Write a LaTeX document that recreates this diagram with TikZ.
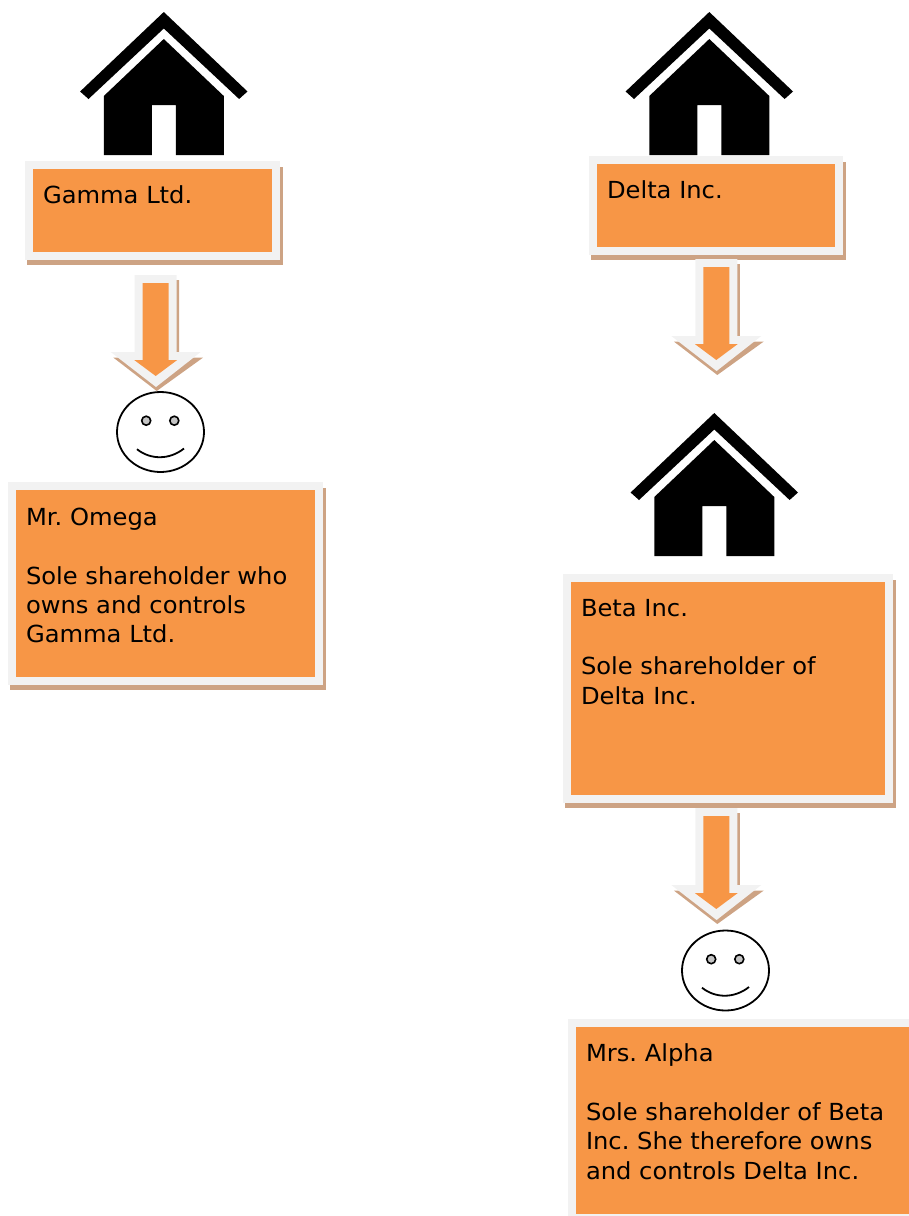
\documentclass[tikz,border=0pt]{standalone}
\usepackage{fontspec}
\setmainfont{DejaVu Sans}[FakeStretch=1.03]
\definecolor{boxfill}{HTML}{F79646}
\definecolor{boxedge}{HTML}{F2F2F2}
\definecolor{boxshade}{HTML}{CDA384}
\definecolor{eyefill}{HTML}{C4C4C4}
\newcommand{\firstline}{\rule{0pt}{17pt}}
% #1 name, #2-#5 path corners x0,y0,x1,y1 of the outer frame
\newcommand{\panel}[5]{%
  \fill[boxshade] (#2+2,#3+6) rectangle (#4+3,#5+5);
  \node[panelbox, minimum width={#4-#2-8}, minimum height={#5-#3-8}] (#1) at ({(#2+#4)/2},{(#3+#5)/2}) {};
}
\tikzset{
  panelbox/.style={rectangle, fill=boxfill, draw=boxedge, line width=8pt, inner sep=0pt, outer sep=0pt},
  paneltext/.style={anchor=north west, inner sep=0pt, outer sep=0pt, align=left, text=black,
    font=\fontsize{23.5}{29.3}\selectfont\frenchspacing},
  house/.pic={
    \fill[black] (0,0) -- (83.7,79.5) -- (75.3,87) -- (0,16.5) -- (-75.3,87) -- (-83.7,79.5) -- cycle;
    \fill[black] (0,27) -- (60,84) -- (60,143) -- (12,143) -- (12,93) -- (-12,93) -- (-12,143) -- (-60,143) -- (-60,84) -- cycle;
  },
  blockdown/.pic={
    \fill[boxshade] (-21+2.5,5) -- (21+2.5,5) -- (21+2.5,77+5.5) -- (45+2.5,77+5.5) -- (1,116) -- (-45+2.5,77+5.5) -- (-21+2.5,77+5.5) -- cycle;
    \fill[boxedge] (-21,0) -- (21,0) -- (21,77) -- (45,77) -- (0.3,112) -- (-45,77) -- (-21,77) -- cycle;
    \fill[boxfill] (-13,8) -- (13,8) -- (13,85) -- (21.5,85) -- (0,101) -- (-21.5,85) -- (-13,85) -- cycle;
  },
  smiley/.pic={
    \draw[black, fill=white, line width=1.8pt] (0,0) ellipse [x radius=43.5pt, y radius=40pt];
    \draw[black, fill=eyefill, line width=1.6pt] (-14.3,-11.3) circle [radius=4.5pt];
    \draw[black, fill=eyefill, line width=1.6pt] (13.8,-11.3) circle [radius=4.5pt];
    \draw[black, line width=1.8pt] (-23.5,17.2) .. controls (-10,28) and (9,28) .. (23.5,16.5);
  }
}
\begin{document}
\begin{tikzpicture}[x=1pt,y=-1pt]
\useasboundingbox (0,0) rectangle (909,1216);
\clip (0,0) rectangle (909,1216);

\pic at (163.8,12) {house};
\pic at (709.3,12) {house};
\pic at (714.3,413) {house};

\panel{gamma}{25}{161}{280}{260}
\panel{delta}{589}{156}{843}{255}
\panel{omega}{8}{482}{323}{685}
\panel{beta}{563}{574}{893}{803}
\panel{alpha}{568}{1019}{930}{1222}

\node[paneltext] (gammatext) at (43,186) {\firstline Gamma Ltd.};
\node[paneltext] (deltatext) at (607,181) {\firstline Delta Inc.};
\node[paneltext] (omegatext) at (26,508) {\firstline Mr. Omega\\[29.3pt]Sole shareholder who\\owns and controls\\Gamma Ltd.};
\node[paneltext] (betatext) at (581,599) {\firstline Beta Inc.\\[29.3pt]Sole shareholder of\\Delta Inc.};
\node[paneltext] (alphatext) at (586,1044) {\firstline Mrs. Alpha\\[29.3pt]Sole shareholder of Beta\\Inc. She therefore owns\\and controls Delta Inc.};

\pic at (155.7,275) {blockdown};
\pic at (716.3,259) {blockdown};
\pic at (716.3,808) {blockdown};

\pic at (160.5,432) {smiley};
\pic at (725.5,970.5) {smiley};
\end{tikzpicture}
\end{document}
